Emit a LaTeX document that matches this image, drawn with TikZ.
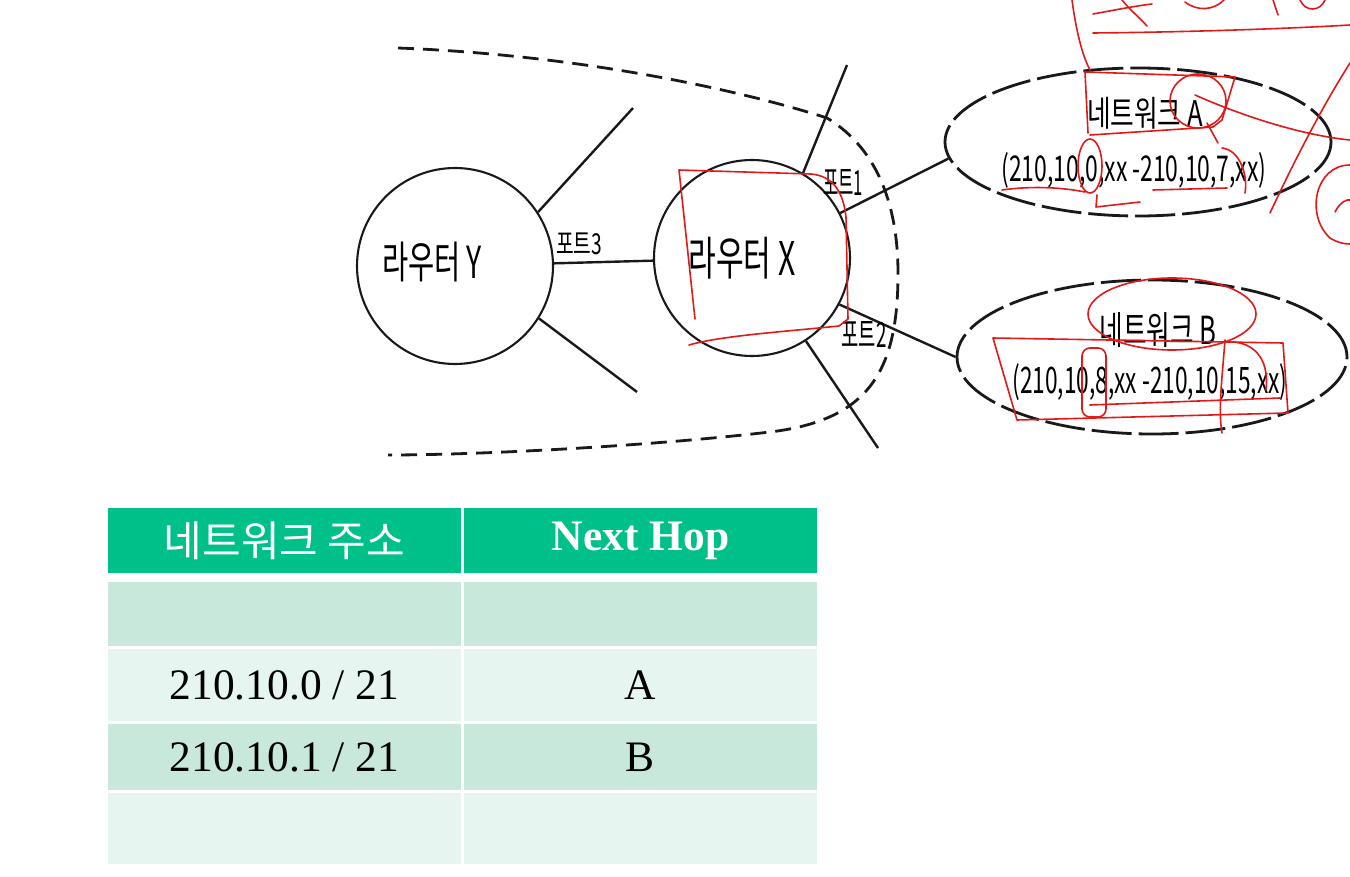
\documentclass[tikz,border=0pt]{standalone}
\usepackage{fontspec}
\usepackage{graphicx}
\setmainfont{Liberation Serif}
\newfontfamily\kr{Noto Sans CJK KR}
\usetikzlibrary{shapes.geometric}
\newcommand\fitt[3]{\resizebox*{#1pt}{#2pt}{\kr #3}}
\definecolor{hdr}{RGB}{0,192,138}
\definecolor{rowa}{RGB}{200,232,220}
\definecolor{rowb}{RGB}{230,245,240}
\definecolor{pen}{RGB}{225,25,25}
\begin{document}
\begin{tikzpicture}[x=1pt,y=-1pt,
  wire/.style={line width=2.4pt, black!90},
  router/.style={circle, draw=black!90, line width=2.1pt, minimum size=196pt, inner sep=0pt},
  net/.style={ellipse, draw=black!90, line width=2.8pt, dash pattern=on 40pt off 7pt, inner sep=0pt},
  lbl/.style={inner sep=0pt, text=black},
  bound/.style={line width=2.8pt, black!90, dash pattern=on 16pt off 9pt},
  redpen/.style={draw=pen, line width=1.6pt, line cap=round, line join=round},
  cell/.style={inner sep=0pt, minimum width=353pt},
  hcell/.style={cell, fill=hdr, text=white, minimum height=65pt},
  body/.style={font=\fontsize{43.5}{46}\selectfont}]
\useasboundingbox[fill=white] (0,0) rectangle (1350,877);

% ---------- diagram ----------
\node[router] (Y) at (455,266) {};
\node[router] (X) at (752,258) {};
\node[lbl] (ty) at (432,262) {\fitt{100}{40}{라우터 Y}};
\node[lbl] (tx) at (742,258) {\fitt{107}{42}{라우터 X}};

\node[net, minimum width=386pt, minimum height=148pt] (A) at (1138,142) {};
\node[net, minimum width=390pt, minimum height=154pt] (B) at (1152,357) {};
\node[lbl] (a1) at (1145,113) {\fitt{116}{32}{네트워크 A}};
\node[lbl] (a2) at (1134,170) {\fitt{265}{36}{(210,10,0,xx -210,10,7,xx)}};
\node[lbl] (b1) at (1158,330) {\fitt{117}{35}{네트워크 B}};
\node[lbl] (b2) at (1150,382) {\fitt{275}{37}{(210,10,8,xx -210,10,15,xx)}};

% links
\draw[wire] (Y) -- (X);
\draw[wire] (X.27) -- (A.185);
\draw[wire] (X.-28) -- (B.west);
% stubs
\coordinate (y1) at (633,108);
\coordinate (y2) at (637,392);
\coordinate (x1) at (847,65);
\coordinate (x2) at (878,448);
\draw[wire] (Y.33) -- (y1);
\draw[wire] (Y.-32) -- (y2);
\draw[wire] (X.59) -- (x1);
\draw[wire] (X.-57) -- (x2);

% port labels
\node[lbl] (p3) at (579,244) {\fitt{46}{22}{포트3}};
\node[lbl] (p1) at (843,182) {\fitt{40}{26}{포트1}};
\node[lbl] (p2) at (864,334) {\fitt{45}{26}{포트2}};

% boundary
\draw[bound] (398,48) .. controls (580,55) and (740,90) .. (827,118)
  .. controls (880,150) and (898,210) .. (898,273)
  .. controls (898,370) and (870,420) .. (770,432)
  .. controls (650,446) and (480,455) .. (388,455);

% ---------- table ----------
\node[hcell] (h1) at (284.5,540.5) {\kr\fontsize{42}{44}\selectfont 네트워크 주소};
\node[hcell] (h2) at (640.5,540.5) {\fontsize{43.5}{46}\selectfont\bfseries Next Hop};
\node[cell, fill=rowa, minimum height=64pt] (r1a) at (284.5,614) {};
\node[cell, fill=rowa, minimum height=64pt] (r1b) at (640.5,614) {};
\node[cell, fill=rowb, minimum height=72pt, body] (r2a) at (284.5,685) {210.10.0 / 21};
\node[cell, fill=rowb, minimum height=72pt, body] (r2b) at (640.5,685) {A};
\node[cell, fill=rowa, minimum height=66pt, body] (r3a) at (284.5,757) {210.10.1 / 21};
\node[cell, fill=rowa, minimum height=66pt, body] (r3b) at (640.5,757) {B};
\node[cell, fill=rowb, minimum height=71pt] (r4a) at (284.5,828.5) {};
\node[cell, fill=rowb, minimum height=71pt] (r4b) at (640.5,828.5) {};

% ---------- red pen annotations ----------
% router X
\draw[redpen] (695,319) -- (679,170) -- (811,174) .. controls (832,176) and (843,190) .. (846,217)
  -- (848,319) -- (839,326) .. controls (780,332) and (720,336) .. (689,345);
% network A
\draw[redpen] (1088,133) -- (1085,72) -- (1235,77) -- (1222,120) -- (1213,127) -- (1090,135);
\draw[redpen] (1198,101) ellipse [x radius=28, y radius=27];
\draw[redpen] (1195,95) .. controls (1240,115) and (1300,135) .. (1350,140);
\draw[redpen] (1072,0) .. controls (1076,30) and (1082,55) .. (1090,70);
\draw[redpen] (1093,33) .. controls (1200,32) and (1300,28) .. (1350,25);
\draw[redpen] (1093,14) .. controls (1115,10) and (1135,6) .. (1152,4);
\draw[redpen] (1122,0) .. controls (1130,10) and (1140,18) .. (1147,26);
\draw[redpen] (1185,2) .. controls (1198,12) and (1214,10) .. (1224,0);
\draw[redpen] (1273,0) -- (1278,15);
\draw[redpen] (1300,0) .. controls (1305,12) and (1320,12) .. (1325,0);
\draw[redpen] (1270,213) .. controls (1290,170) and (1320,110) .. (1350,63);
\draw[redpen] (1350,165) .. controls (1315,165) and (1305,215) .. (1330,238) .. controls (1338,243) and (1345,244) .. (1350,244);
\draw[redpen] (1335,212) .. controls (1340,202) and (1347,199) .. (1350,200);
\draw[redpen] (1090,166) ellipse [x radius=12, y radius=27];
\draw[redpen] (1002,190) .. controls (1030,186) and (1060,187) .. (1085,192);
\draw[redpen] (1153,190) -- (1227,188);
\draw[redpen] (1097,195) -- (1096,207) -- (1140,202);
\draw[redpen] (1207,123) -- (1218,143);
\draw[redpen] (1222,148) .. controls (1240,150) and (1248,175) .. (1245,193);
% network B
\draw[redpen] (1172,314) ellipse [x radius=84, y radius=36];
\draw[redpen] (993,338) -- (1283,343) -- (1288,413) -- (1017,420) -- cycle;
\draw[redpen] (1090,405) -- (1280,398);
\draw[redpen, rounded corners=8pt] (1082,348) rectangle (1106,417);
\draw[redpen] (1225,340) .. controls (1222,380) and (1218,410) .. (1222,433);
\draw[redpen] (1225,342) .. controls (1250,340) and (1270,355) .. (1266,390);
\end{tikzpicture}
\end{document}
